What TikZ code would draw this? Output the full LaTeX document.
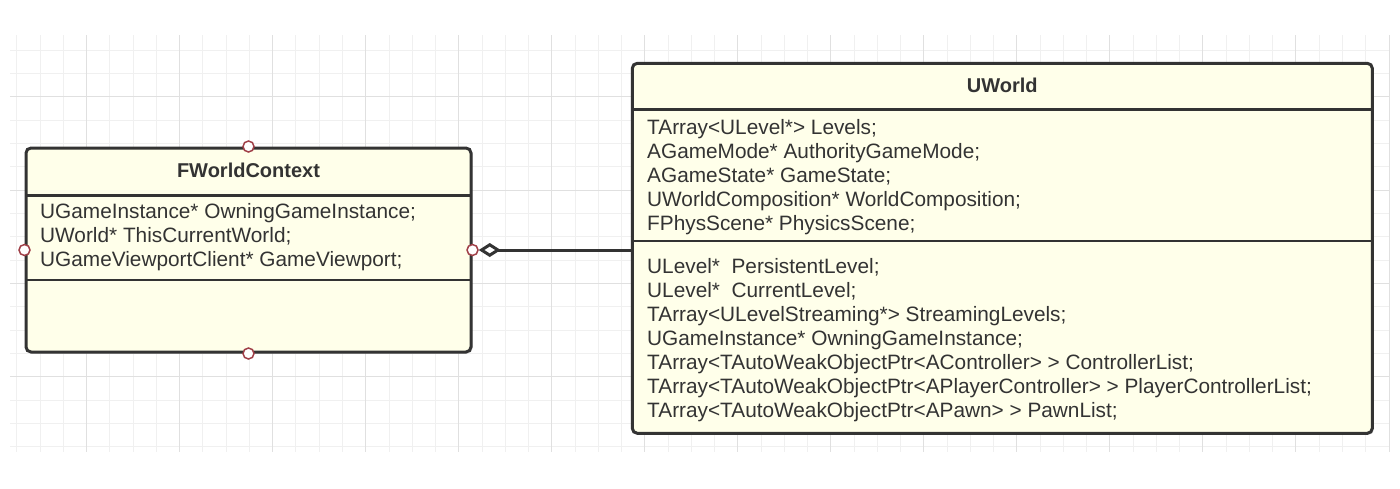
\documentclass[tikz,border=0pt]{standalone}
\usepackage{fontspec}
\setmainfont{Liberation Sans}
\usetikzlibrary{arrows.meta,positioning,shadows}

\definecolor{umlfill}{RGB}{255,255,234}
\definecolor{umlline}{RGB}{51,51,51}
\definecolor{portred}{RGB}{160,64,72}
\definecolor{gridlight}{RGB}{240,240,240}
\definecolor{griddark}{RGB}{224,224,224}

\tikzset{
  classbox/.style={draw=umlline,fill=umlfill,line width=3pt,rounded corners=5pt,inner sep=0pt,
    drop shadow={shadow xshift=1.5pt,shadow yshift=-1.5pt,opacity=.3}},
  classname/.style={font=\fontsize{20}{24}\selectfont\bfseries,text=umlline,inner sep=0pt,anchor=base},
  member/.style={font=\fontsize{20.8}{24}\selectfont,text=umlline,inner sep=0pt,anchor=base west},
  sepline/.style={draw=umlline,line width=2.6pt},
  port/.style={draw=portred,fill=white,circle,line width=1.5pt,minimum size=11pt,inner sep=0pt},
  aggr/.style={draw=umlline,line width=3pt,arrows={Diamond[fill=white,length=22pt,width=14pt]-}},
  gridminor/.style={draw=gridlight,line width=1pt},
  gridmajor/.style={draw=griddark,line width=1pt}
}

\begin{document}
\begin{tikzpicture}[x=1pt,y=-1pt]
\useasboundingbox (0,0) rectangle (1400,488);

% background grid
\foreach \i in {0,...,59} \draw[gridminor] ({16.9+23.256*\i},35) -- ({16.9+23.256*\i},452);
\foreach \j in {2,...,19} \draw[gridminor] (10,{3.4+23.33*\j}) -- (1390,{3.4+23.33*\j});
\foreach \i in {3,7,...,59} \draw[gridmajor] ({16.9+23.256*\i},35) -- ({16.9+23.256*\i},452);
\foreach \j in {4,8,...,16} \draw[gridmajor] (10,{3.4+23.33*\j}) -- (1390,{3.4+23.33*\j});

% classes
\node[classbox,minimum width=445pt,minimum height=204pt] (fwc) at (248.5,250) {};
\node[classbox,minimum width=740pt,minimum height=370pt] (uworld) at (1002.3,248.3) {};

\draw[sepline] (26,195.7) -- (471,195.7);
\draw[sepline] (26,280) -- (471,280);
\draw[sepline] (632.3,109.3) -- (1372.3,109.3);
\draw[sepline] (632.3,241) -- (1372.3,241);

\node[classname] (fwcname) at (248.5,177) {FWorldContext};
\node[classname] (uworldname) at (1002.3,92) {UWorld};

\foreach \txt [count=\k] in {UGameInstance* OwningGameInstance;,UWorld* ThisCurrentWorld;,UGameViewportClient* GameViewport;}
  \node[member] (fwcattr\k) at (40,{194+24*\k}) {\txt};

\foreach \txt [count=\k] in {TArray<ULevel*> Levels;,AGameMode* AuthorityGameMode;,AGameState* GameState;,UWorldComposition* WorldComposition;,FPhysScene* PhysicsScene;}
  \node[member] (wattr\k) at (647,{110+24*\k}) {\txt};

\foreach \txt [count=\k] in {ULevel*\ \ PersistentLevel;,ULevel*\ \ CurrentLevel;,TArray<ULevelStreaming*> StreamingLevels;,UGameInstance* OwningGameInstance;,TArray<TAutoWeakObjectPtr<AController> > ControllerList;,TArray<TAutoWeakObjectPtr<APlayerController> > PlayerControllerList;,TArray<TAutoWeakObjectPtr<APawn> > PawnList;}
  \node[member] (wmem\k) at (647,{249+24*\k}) {\txt};

% ports
\node[port] (fwcT) at (fwc.north) {};
\node[port] (fwcB) at (fwc.south) {};
\node[port] (fwcL) at (fwc.west) {};
\node[port] (fwcR) at (fwc.east) {};

% aggregation
\draw[aggr] (fwcR) -- (fwcR -| uworld.west);
\end{tikzpicture}
\end{document}
